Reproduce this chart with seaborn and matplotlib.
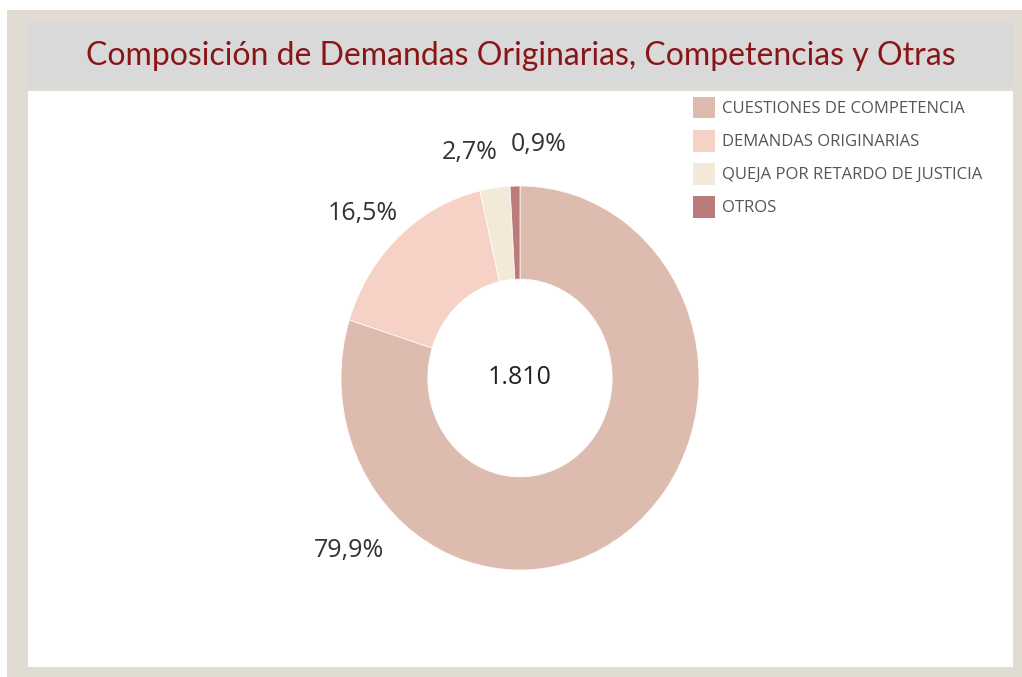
import matplotlib
matplotlib.use("Agg")
import matplotlib.pyplot as plt
from matplotlib.patches import Rectangle, Patch
import numpy as np
import seaborn as sns

# data
categories = ["CUESTIONES DE COMPETENCIA", "DEMANDAS ORIGINARIAS",
              "QUEJA POR RETARDO DE JUSTICIA", "OTROS"]
counts = [1446, 299, 49, 16]
pct_labels = ["79,9%", "16,5%", "2,7%", "0,9%"]
total_label = "1.810"
title = "Composición de Demandas Originarias, Competencias y Otras"

palette = sns.color_palette(["#DEBBAF", "#F6D1C6", "#F3E9D9", "#BC7B7B"])

sns.set_theme(style="white")
plt.rcParams["font.family"] = ["Open Sans", "DejaVu Sans"]

W, H = 1022, 677
fig = plt.figure(figsize=(W / 100, H / 100), dpi=100)
fig.patch.set_facecolor("white")

def px_rect(x0, y0, x1, y1, color, z):
    fig.patches.append(Rectangle((x0 / W, 1 - y1 / H), (x1 - x0) / W, (y1 - y0) / H,
                                 transform=fig.transFigure, facecolor=color,
                                 edgecolor="none", zorder=z))

# frame, title band, white panel
px_rect(7, 10, 1022, 677, "#E0DCD1", -3)
px_rect(28, 22, 1014, 87, "#D9D9D9", -2)
px_rect(28, 91, 1013, 667, "white", -2)

fig.text(521 / W, 1 - 56 / H, title, ha="center", va="center",
         fontsize=23, color="#8A1518", family=["Lato", "DejaVu Sans"], zorder=5)

# donut (reference is slightly stretched vertically)
cx, cy, rx, ry = 520, 378, 179, 192
ax = fig.add_axes([(cx - 1.5 * rx) / W, 1 - (cy + 1.5 * ry) / H, 3 * rx / W, 3 * ry / H])
ax.set_zorder(3)
ax.patch.set_alpha(0)
wedges, _ = ax.pie(counts, colors=palette, startangle=90, counterclock=False,
                   radius=1, wedgeprops=dict(width=0.485, edgecolor="white", linewidth=0.5))
ax.set_aspect("auto")
ax.set_xlim(-1.5, 1.5)
ax.set_ylim(-1.5, 1.5)
ax.axis("off")

# percent labels at the slice mid-angles, nudged like the original layout
frac = np.array(counts) / sum(counts)
ends = 90 - 360 * np.cumsum(frac)
mids = ends + 180 * frac
nudge = [-83, 3, 5.5, -6.5]
dist = [1.31, 1.225, 1.21, 1.22]
for lab, m, dn, r in zip(pct_labels, mids, nudge, dist):
    a = np.deg2rad(m + dn)
    ax.text(r * np.cos(a), r * np.sin(a), lab, ha="center", va="center",
            fontsize=18, color="#333333")

ax.text(0, 0, total_label, ha="center", va="center", fontsize=18, color="#222222")

handles = [Patch(facecolor=c, edgecolor="none") for c in palette]
fig.legend(handles, categories, loc="upper left",
           bbox_to_anchor=(693 / W, 1 - 97 / H), frameon=False,
           fontsize=12, handlelength=1.32, handleheight=1.6,
           handletextpad=0.42, labelspacing=0.7, borderpad=0, borderaxespad=0,
           labelcolor="#555555")

fig.savefig("out.png", dpi=100, facecolor="white")
